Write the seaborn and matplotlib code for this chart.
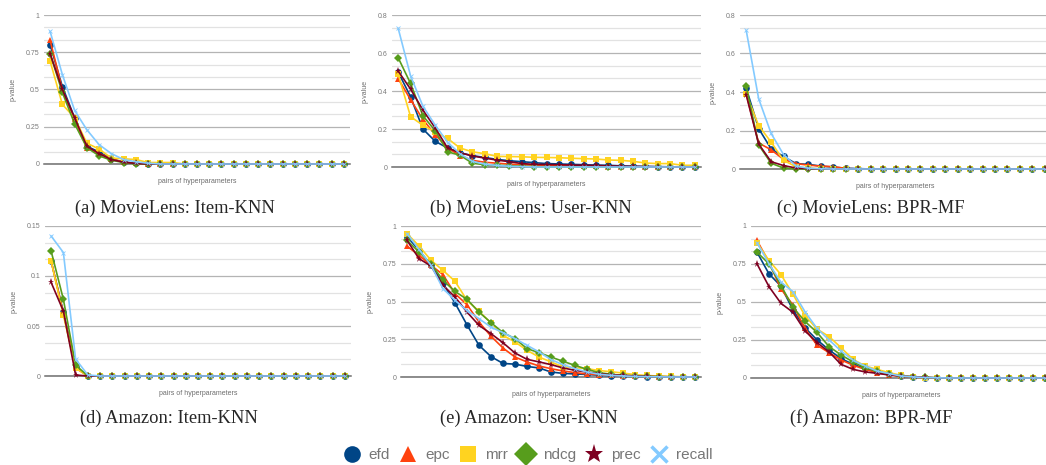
import matplotlib
matplotlib.use("Agg")
import matplotlib.pyplot as plt
import seaborn as sns
from matplotlib.ticker import MultipleLocator, FuncFormatter
from matplotlib.lines import Line2D

sns.set_style("white")
plt.rcParams["font.family"] = ["Liberation Sans", "DejaVu Sans"]

metrics = ["efd", "epc", "mrr", "ndcg", "prec", "recall"]
colors = {"efd": "#004586", "epc": "#ff420e", "mrr": "#ffd320",
          "ndcg": "#579d1c", "prec": "#7e0021", "recall": "#83caff"}
markers = {"efd": "o", "epc": "^", "mrr": "s", "ndcg": "D", "prec": "*", "recall": "x"}
msizes = {"efd": 4.8, "epc": 4.8, "mrr": 4.2, "ndcg": 3.8, "prec": 5.2, "recall": 2.5}

# (a) MovieLens: Item-KNN
ml_item_efd = [0.80, 0.52, 0.31, 0.12, 0.08, 0.035, 0.013, 0.005, 0.002, 0, 0, 0, 0, 0, 0, 0, 0, 0, 0, 0, 0, 0, 0, 0, 0]
ml_item_epc = [0.83, 0.50, 0.30, 0.11, 0.07, 0.035, 0.012, 0.004, 0.001, 0, 0, 0, 0, 0, 0, 0, 0, 0, 0, 0, 0, 0, 0, 0, 0]
ml_item_mrr = [0.69, 0.40, 0.31, 0.14, 0.10, 0.04, 0.035, 0.03, 0.01, 0.01, 0.01, 0, 0, 0, 0, 0, 0, 0, 0, 0, 0, 0, 0, 0, 0]
ml_item_ndcg = [0.74, 0.48, 0.27, 0.11, 0.055, 0.025, 0.01, 0.003, 0, 0, 0, 0, 0, 0, 0, 0, 0, 0, 0, 0, 0, 0, 0, 0, 0]
ml_item_prec = [0.74, 0.50, 0.31, 0.12, 0.07, 0.03, 0.012, 0.004, 0, 0, 0, 0, 0, 0, 0, 0, 0, 0, 0, 0, 0, 0, 0, 0, 0]
ml_item_recall = [0.89, 0.60, 0.36, 0.23, 0.13, 0.07, 0.03, 0.015, 0.005, 0, 0, 0, 0, 0, 0, 0, 0, 0, 0, 0, 0, 0, 0, 0, 0]

# (b) MovieLens: User-KNN
ml_user_efd = [0.50, 0.37, 0.20, 0.135, 0.10, 0.075, 0.06, 0.05, 0.04, 0.033, 0.028, 0.023, 0.018, 0.016, 0.014, 0.012, 0.01, 0.009, 0.006, 0.004, 0.003, 0.002, 0.001, 0, 0]
ml_user_epc = [0.465, 0.355, 0.25, 0.17, 0.10, 0.06, 0.035, 0.025, 0.02, 0.015, 0.012, 0.01, 0.008, 0.006, 0.005, 0.004, 0.003, 0.002, 0.001, 0, 0, 0, 0, 0, 0]
ml_user_mrr = [0.49, 0.265, 0.22, 0.185, 0.15, 0.10, 0.08, 0.07, 0.056, 0.055, 0.054, 0.051, 0.05, 0.049, 0.046, 0.044, 0.042, 0.037, 0.035, 0.03, 0.021, 0.018, 0.018, 0.009, 0.009]
ml_user_ndcg = [0.575, 0.44, 0.27, 0.19, 0.08, 0.062, 0.02, 0.012, 0.009, 0.007, 0.004, 0.002, 0.001, 0, 0, 0, 0, 0, 0, 0, 0, 0, 0, 0, 0]
ml_user_prec = [0.505, 0.41, 0.30, 0.205, 0.10, 0.075, 0.058, 0.047, 0.036, 0.028, 0.018, 0.014, 0.013, 0.012, 0.01, 0.009, 0.008, 0.006, 0.004, 0.003, 0.002, 0.001, 0, 0, 0]
ml_user_recall = [0.73, 0.48, 0.32, 0.22, 0.13, 0.07, 0.03, 0.015, 0.008, 0.004, 0.002, 0, 0, 0, 0, 0, 0, 0, 0, 0, 0, 0, 0, 0, 0]

# (c) MovieLens: BPR-MF
ml_bpr_efd = [0.42, 0.21, 0.105, 0.065, 0.028, 0.024, 0.015, 0.01, 0.004, 0.002, 0, 0, 0, 0, 0, 0, 0, 0, 0, 0, 0, 0, 0, 0, 0]
ml_bpr_epc = [0.39, 0.135, 0.10, 0.05, 0.028, 0.02, 0.015, 0.012, 0.003, 0, 0, 0, 0, 0, 0, 0, 0, 0, 0, 0, 0, 0, 0, 0, 0]
ml_bpr_mrr = [0.39, 0.225, 0.14, 0.045, 0.012, 0.004, 0.002, 0, 0, 0, 0, 0, 0, 0, 0, 0, 0, 0, 0, 0, 0, 0, 0, 0, 0]
ml_bpr_ndcg = [0.43, 0.125, 0.03, 0.005, 0.001, 0, 0, 0, 0, 0, 0, 0, 0, 0, 0, 0, 0, 0, 0, 0, 0, 0, 0, 0, 0]
ml_bpr_prec = [0.385, 0.13, 0.038, 0.018, 0.005, 0.002, 0, 0, 0, 0, 0, 0, 0, 0, 0, 0, 0, 0, 0, 0, 0, 0, 0, 0, 0]
ml_bpr_recall = [0.72, 0.365, 0.185, 0.075, 0.015, 0.004, 0.001, 0, 0, 0, 0, 0, 0, 0, 0, 0, 0, 0, 0, 0, 0, 0, 0, 0, 0]

# (d) Amazon: Item-KNN
am_item_efd = [0.115, 0.064, 0.009, 0, 0, 0, 0, 0, 0, 0, 0, 0, 0, 0, 0, 0, 0, 0, 0, 0, 0, 0, 0, 0, 0]
am_item_epc = [0.115, 0.063, 0.008, 0, 0, 0, 0, 0, 0, 0, 0, 0, 0, 0, 0, 0, 0, 0, 0, 0, 0, 0, 0, 0, 0]
am_item_mrr = [0.115, 0.061, 0.008, 0, 0, 0, 0, 0, 0, 0, 0, 0, 0, 0, 0, 0, 0, 0, 0, 0, 0, 0, 0, 0, 0]
am_item_ndcg = [0.125, 0.0767, 0.011, 0, 0, 0, 0, 0, 0, 0, 0, 0, 0, 0, 0, 0, 0, 0, 0, 0, 0, 0, 0, 0, 0]
am_item_prec = [0.0936, 0.065, 0.001, 0, 0, 0, 0, 0, 0, 0, 0, 0, 0, 0, 0, 0, 0, 0, 0, 0, 0, 0, 0, 0, 0]
am_item_recall = [0.14, 0.1235, 0.017, 0.001, 0, 0, 0, 0, 0, 0, 0, 0, 0, 0, 0, 0, 0, 0, 0, 0, 0, 0, 0, 0, 0]

# (e) Amazon: User-KNN
am_user_efd = [0.93, 0.84, 0.74, 0.62, 0.49, 0.345, 0.21, 0.135, 0.09, 0.085, 0.07, 0.06, 0.033, 0.024, 0.02, 0.017, 0.012, 0.008, 0.006, 0.004, 0.003, 0.002, 0.001, 0, 0]
am_user_epc = [0.867, 0.806, 0.74, 0.678, 0.552, 0.479, 0.364, 0.27, 0.192, 0.132, 0.10, 0.073, 0.055, 0.04, 0.029, 0.02, 0.015, 0.011, 0.008, 0.006, 0.004, 0.002, 0.001, 0, 0]
am_user_mrr = [0.95, 0.868, 0.773, 0.706, 0.634, 0.508, 0.435, 0.358, 0.276, 0.232, 0.177, 0.132, 0.10, 0.066, 0.062, 0.055, 0.043, 0.035, 0.026, 0.016, 0.01, 0.006, 0.004, 0.002, 0]
am_user_ndcg = [0.905, 0.828, 0.75, 0.64, 0.567, 0.514, 0.43, 0.36, 0.294, 0.254, 0.188, 0.161, 0.132, 0.104, 0.077, 0.051, 0.029, 0.018, 0.011, 0.007, 0.004, 0.002, 0.001, 0, 0]
am_user_prec = [0.905, 0.784, 0.735, 0.607, 0.53, 0.43, 0.342, 0.287, 0.227, 0.159, 0.117, 0.10, 0.082, 0.06, 0.044, 0.033, 0.022, 0.015, 0.011, 0.007, 0.004, 0.002, 0.001, 0, 0]
am_user_recall = [0.95, 0.845, 0.74, 0.585, 0.508, 0.44, 0.386, 0.33, 0.294, 0.254, 0.21, 0.166, 0.115, 0.082, 0.055, 0.033, 0.018, 0.011, 0.007, 0.004, 0.002, 0.001, 0, 0, 0]

# (f) Amazon: BPR-MF
am_bpr_efd = [0.828, 0.685, 0.604, 0.447, 0.33, 0.251, 0.185, 0.128, 0.09, 0.064, 0.042, 0.024, 0.013, 0.007, 0.003, 0.001, 0, 0, 0, 0, 0, 0, 0, 0, 0]
am_bpr_epc = [0.905, 0.762, 0.586, 0.48, 0.326, 0.216, 0.167, 0.119, 0.084, 0.057, 0.035, 0.02, 0.011, 0.006, 0.002, 0, 0, 0, 0, 0, 0, 0, 0, 0, 0]
am_bpr_mrr = [0.89, 0.773, 0.68, 0.551, 0.41, 0.322, 0.273, 0.20, 0.123, 0.079, 0.057, 0.035, 0.018, 0.007, 0.003, 0.001, 0, 0, 0, 0, 0, 0, 0, 0, 0]
am_bpr_ndcg = [0.828, 0.751, 0.608, 0.465, 0.372, 0.30, 0.207, 0.152, 0.106, 0.066, 0.046, 0.024, 0.013, 0.008, 0.004, 0.001, 0, 0, 0, 0, 0, 0, 0, 0, 0]
am_bpr_prec = [0.751, 0.601, 0.491, 0.432, 0.31, 0.233, 0.172, 0.09, 0.057, 0.04, 0.031, 0.02, 0.013, 0.008, 0.004, 0.001, 0, 0, 0, 0, 0, 0, 0, 0, 0]
am_bpr_recall = [0.89, 0.751, 0.63, 0.568, 0.436, 0.326, 0.251, 0.178, 0.117, 0.079, 0.046, 0.029, 0.013, 0.007, 0.003, 0.001, 0, 0, 0, 0, 0, 0, 0, 0, 0]

W, H = 1046, 465
fig = plt.figure(figsize=(W / 100, H / 100), dpi=100)

panels = [
    ("(a) MovieLens: Item-KNN", [ml_item_efd, ml_item_epc, ml_item_mrr, ml_item_ndcg, ml_item_prec, ml_item_recall],
     1.0, 0.25, (44, 350, 15, 164), 175, 208),
    ("(b) MovieLens: User-KNN", [ml_user_efd, ml_user_epc, ml_user_mrr, ml_user_ndcg, ml_user_prec, ml_user_recall],
     0.8, 0.2, (392, 701, 15, 167), 531, 208),
    ("(c) MovieLens: BPR-MF", [ml_bpr_efd, ml_bpr_epc, ml_bpr_mrr, ml_bpr_ndcg, ml_bpr_prec, ml_bpr_recall],
     0.8, 0.2, (740, 1051, 15, 169), 871, 208),
    ("(d) Amazon: Item-KNN", [am_item_efd, am_item_epc, am_item_mrr, am_item_ndcg, am_item_prec, am_item_recall],
     0.15, 0.05, (45, 351, 226, 376), 169, 418),
    ("(e) Amazon: User-KNN", [am_user_efd, am_user_epc, am_user_mrr, am_user_ndcg, am_user_prec, am_user_recall],
     1.0, 0.25, (401, 701, 226, 377), 529, 418),
    ("(f) Amazon: BPR-MF", [am_bpr_efd, am_bpr_epc, am_bpr_mrr, am_bpr_ndcg, am_bpr_prec, am_bpr_recall],
     1.0, 0.25, (751, 1051, 226, 378), 871, 418),
]

for caption, series, ymax, step, (l, r, t, b), cx, cy in panels:
    ax = fig.add_axes([l / W, 1 - b / H, (r - l) / W, (b - t) / H])
    for m, vals in zip(metrics, series):
        sns.lineplot(x=list(range(len(vals))), y=vals, ax=ax, color=colors[m], marker=markers[m],
                     markersize=msizes[m], markeredgewidth=0.6 if m == "recall" else 0,
                     markeredgecolor=colors[m], linewidth=1.2, clip_on=False, zorder=3)
    ax.set_xlim(-0.5, 24.5)
    ax.set_ylim(0, ymax)
    ax.yaxis.set_major_locator(MultipleLocator(step))
    ax.yaxis.set_minor_locator(MultipleLocator(step / 3))
    ax.yaxis.set_major_formatter(FuncFormatter(lambda v, p: "%g" % round(v, 4)))
    ax.grid(which="major", axis="y", color="#b4b4b4", linewidth=0.9)
    ax.grid(which="minor", axis="y", color="#e2e2e2", linewidth=0.9)
    ax.grid(False, axis="x")
    ax.set_axisbelow(True)
    ax.set_xticks([])
    ax.tick_params(axis="y", which="both", length=0, labelsize=5, labelcolor="#7a7a7a", pad=3)
    for s in ["top", "right", "left"]:
        ax.spines[s].set_visible(False)
    ax.spines["bottom"].set_color("#6e6e6e")
    ax.spines["bottom"].set_linewidth(1.1)
    ax.set_xlabel("pairs of hyperparameters", fontsize=5, color="#6e6e6e", labelpad=10)
    ax.set_ylabel("p-value", fontsize=5, color="#6e6e6e", labelpad=7)
    fig.text(cx / W, 1 - cy / H, caption, ha="center", va="center",
             family=["Liberation Serif", "DejaVu Serif"], fontsize=13.3)

handles = [Line2D([], [], linestyle="none", marker=markers[m], color=colors[m], markersize=12 if m != "prec" else 14,
                  markeredgewidth=2.5 if m == "recall" else 0, markeredgecolor=colors[m]) for m in metrics]
fig.legend(handles, metrics, loc="center", bbox_to_anchor=(527 / W, 1 - 455 / H), ncol=6, frameon=False,
           fontsize=11, labelcolor="#777777", handlelength=1.3, handletextpad=0.45, columnspacing=0.55)

fig.savefig("out.png", dpi=100)
